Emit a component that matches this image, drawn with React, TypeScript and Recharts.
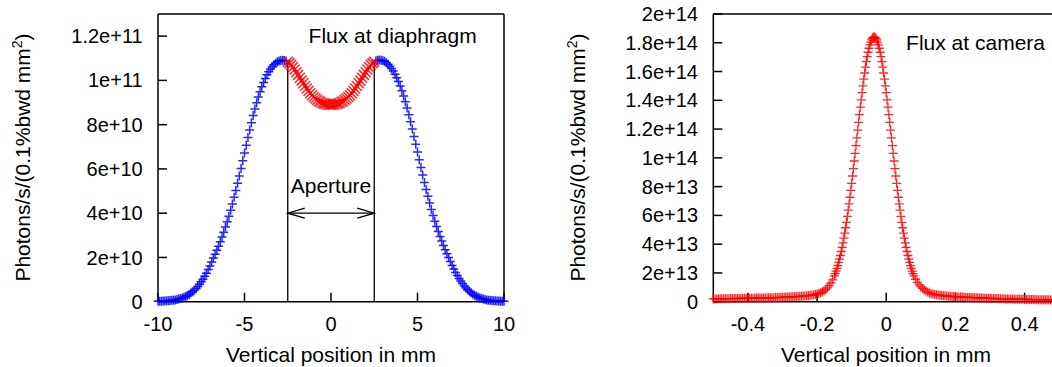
import { ScatterChart, Scatter, XAxis, YAxis, ReferenceLine } from 'recharts';

const FONT = '"Liberation Sans", Arial, Helvetica, sans-serif';

// ---- flux at diaphragm, values in units of 1e10, grid step 0.1 mm
const DIA_UNIT = 1e10;
const DIA_OUTER_LEFT = [
  0.02, 0.02, 0.02, 0.03, 0.03, 0.04, 0.04, 0.05, 0.06, 0.07,
  0.08, 0.10, 0.12, 0.14, 0.17, 0.20, 0.24, 0.28, 0.33, 0.39,
  0.45, 0.52, 0.60, 0.69, 0.79, 0.90, 1.02, 1.15, 1.29, 1.45,
  1.61, 1.79, 1.97, 2.14, 2.32, 2.51, 2.71, 2.92, 3.14, 3.37,
  3.61, 3.86, 4.13, 4.42, 4.72, 5.03, 5.35, 5.68, 6.02, 6.37,
  6.72, 7.07, 7.42, 7.76, 8.09, 8.41, 8.71, 8.99, 9.25, 9.49,
  9.71, 9.91, 10.09, 10.25, 10.39, 10.51, 10.62, 10.71, 10.78, 10.84,
  10.88, 10.90, 10.91, 10.90, 10.88,
]; // x = -10.0 .. -2.6
const DIA_APERTURE = [
  10.84, 10.78, 10.70, 10.60, 10.49, 10.37, 10.25, 10.12, 9.99, 9.87,
  9.75, 9.63, 9.52, 9.42, 9.33, 9.25, 9.18, 9.12, 9.06, 9.02,
  8.98, 8.95, 8.93, 8.91, 8.90, 8.90, 8.90, 8.91, 8.93, 8.95,
  8.98, 9.02, 9.06, 9.12, 9.18, 9.25, 9.33, 9.42, 9.52, 9.63,
  9.75, 9.87, 9.99, 10.12, 10.25, 10.37, 10.49, 10.60, 10.70, 10.78,
  10.84,
]; // x = -2.5 .. 2.5
const DIA_OUTER_RIGHT = [
  10.89, 10.91, 10.92, 10.91, 10.89, 10.86, 10.80, 10.73, 10.64, 10.54,
  10.42, 10.28, 10.12, 9.95, 9.75, 9.53, 9.29, 9.03, 8.75, 8.45,
  8.13, 7.80, 7.46, 7.11, 6.76, 6.41, 6.06, 5.72, 5.39, 5.07,
  4.76, 4.46, 4.17, 3.90, 3.64, 3.40, 3.17, 2.95, 2.74, 2.54,
  2.35, 2.17, 2.00, 1.82, 1.64, 1.48, 1.32, 1.18, 1.05, 0.93,
  0.82, 0.71, 0.62, 0.54, 0.47, 0.40, 0.34, 0.29, 0.25, 0.21,
  0.17, 0.14, 0.12, 0.10, 0.08, 0.07, 0.06, 0.05, 0.04, 0.04,
  0.03, 0.03, 0.02, 0.02, 0.02,
]; // x = 2.6 .. 10.0

// ---- flux at camera, values in units of 1e13
const CAM_UNIT = 1e13;
const CAM_TAIL_LEFT = [
  0.19, 0.192, 0.195, 0.197, 0.2, 0.202, 0.205, 0.207, 0.21, 0.212,
  0.215, 0.217, 0.22, 0.222, 0.225, 0.227, 0.23, 0.232, 0.235, 0.237,
  0.24, 0.242, 0.245, 0.247, 0.25, 0.252, 0.255, 0.257, 0.26, 0.262,
  0.265, 0.267, 0.27, 0.273, 0.277, 0.281, 0.285, 0.289, 0.294, 0.3,
  0.306, 0.312, 0.319, 0.325, 0.332, 0.338, 0.345, 0.352, 0.359, 0.366,
  0.374, 0.381, 0.389, 0.398, 0.408, 0.422, 0.44, 0.455, 0.475, 0.5,
]; // x = -0.500 .. -0.205, step 0.005
const CAM_SHOULDER_LEFT = [0.53, 0.567, 0.615, 0.675, 0.751, 0.847, 0.967, 1.116, 1.3, 1.524]; // -0.200 .. -0.155
const CAM_CORE = [
  1.80, 1.95, 2.12, 2.31, 2.51, 2.73, 2.96, 3.21, 3.49, 3.78,
  4.09, 4.42, 4.77, 5.14, 5.52, 5.93, 6.36, 6.80, 7.26, 7.74,
  8.23, 8.74, 9.25, 9.78, 10.31, 10.85, 11.39, 11.93, 12.47, 13.0,
  13.52, 14.03, 14.53, 15.01, 15.47, 15.9, 16.31, 16.69, 17.03, 17.34,
  17.62, 17.85, 18.05, 18.2, 18.31, 18.38, 18.4, 18.38, 18.31, 18.2,
  18.05, 17.85, 17.62, 17.34, 17.03, 16.69, 16.31, 15.9, 15.47, 15.01,
  14.53, 14.03, 13.52, 13.0, 12.47, 11.93, 11.39, 10.85, 10.31, 9.78,
  9.25, 8.74, 8.23, 7.74, 7.26, 6.8, 6.36, 5.93, 5.52, 5.14,
  4.77, 4.42, 4.09, 3.78, 3.49, 3.21, 2.96, 2.73, 2.51, 2.31,
  2.12, 1.95, 1.80,
]; // -0.150 .. 0.080, step 0.0025
const CAM_SHOULDER_RIGHT = [1.56, 1.35, 1.17, 1.03, 0.92, 0.82, 0.74, 0.67, 0.61, 0.56]; // 0.085 .. 0.130
const CAM_TAIL_RIGHT = [
  0.53, 0.5, 0.48, 0.46, 0.445, 0.43, 0.417, 0.405, 0.395, 0.385,
  0.375, 0.365, 0.355, 0.345, 0.338, 0.332, 0.325, 0.319, 0.312, 0.306,
  0.3, 0.294, 0.288, 0.283, 0.277, 0.272, 0.266, 0.261, 0.256, 0.251,
  0.246, 0.242, 0.237, 0.232, 0.228, 0.224, 0.22, 0.216, 0.212, 0.208,
  0.204, 0.2, 0.196, 0.193, 0.189, 0.186, 0.182, 0.179, 0.176, 0.173,
  0.17, 0.167, 0.164, 0.161, 0.158, 0.156, 0.153, 0.151, 0.148, 0.146,
  0.143, 0.141, 0.138, 0.136, 0.134, 0.132, 0.13, 0.128, 0.126, 0.124,
  0.122, 0.12, 0.118, 0.116,
]; // 0.135 .. 0.500, step 0.005

const DIA_X_TICKS = [-10, -5, 0, 5, 10];
const DIA_Y_TICKS = [0, 2e10, 4e10, 6e10, 8e10, 1e11, 1.2e11];
const CAM_X_TICKS = [-0.4, -0.2, 0, 0.2, 0.4];
const CAM_Y_TICKS = [0, 2e13, 4e13, 6e13, 8e13, 1e14, 1.2e14, 1.4e14, 1.6e14, 1.8e14, 2e14];

const APERTURE = 2.5;
const APERTURE_TOP = 1.09e11;
const ARROW_Y = 4e10;

type Seg = { start: number; step: number; values: number[] };
const toPoints = (segs: Seg[], unit: number) =>
  segs.flatMap(s => s.values.map((v, i) => ({ x: +(s.start + i * s.step).toFixed(4), y: v * unit })));

const diaOuter = [
  ...toPoints([{ start: -10, step: 0.1, values: DIA_OUTER_LEFT }], DIA_UNIT),
  ...toPoints([{ start: 2.6, step: 0.1, values: DIA_OUTER_RIGHT }], DIA_UNIT),
];
const diaInner = toPoints([{ start: -2.5, step: 0.1, values: DIA_APERTURE }], DIA_UNIT);
const camData = toPoints([
  { start: -0.5, step: 0.005, values: CAM_TAIL_LEFT },
  { start: -0.2, step: 0.005, values: CAM_SHOULDER_LEFT },
  { start: -0.15, step: 0.0025, values: CAM_CORE },
  { start: 0.085, step: 0.005, values: CAM_SHOULDER_RIGHT },
  { start: 0.135, step: 0.005, values: CAM_TAIL_RIGHT },
], CAM_UNIT);

const expFmt = (v: number) => (v === 0 ? '0' : v.toExponential());

const plus = (color: string, w: number) => (p: any) => (
  <path d={`M${p.cx - 4.5},${p.cy}h9M${p.cx},${p.cy - 4.5}v9`} stroke={color} strokeOpacity={0.85} strokeWidth={w} fill="none" />
);
const cross = (color: string) => (p: any) => (
  <path d={`M${p.cx - 5},${p.cy - 5}l10,10M${p.cx - 5},${p.cy + 5}l10,-10`} stroke={color} strokeOpacity={0.85} strokeWidth={1.5} fill="none" />
);

const ArrowShape = (p: any) => {
  const { x1, y1, x2 } = p;
  return (
    <g stroke="#000" strokeWidth={1.3} fill="none">
      <line x1={x1} y1={y1} x2={x2} y2={y1} />
      <path d={`M${x1 + 17},${y1 - 5}L${x1},${y1}L${x1 + 17},${y1 + 5}`} />
      <path d={`M${x2 - 17},${y1 - 5}L${x2},${y1}L${x2 - 17},${y1 + 5}`} />
    </g>
  );
};

const axisLine = { stroke: '#000', strokeWidth: 1.5 };
const tickFont = { fontSize: 20, fill: '#000', fontFamily: FONT };

function Frame({ xDomain, yDomain, xTicks, yTicks, yWidth }: any) {
  // gnuplot-style box with inward ticks on all four sides
  return [
    <XAxis key="b" xAxisId="b" dataKey="x" type="number" domain={xDomain} ticks={xTicks} interval={0}
      height={65.3} tickSize={-9} tickMargin={24} axisLine={axisLine} tickLine={axisLine} tick={tickFont} />,
    <XAxis key="t" xAxisId="t" orientation="top" dataKey="x" type="number" domain={xDomain} ticks={xTicks} interval={0}
      height={1} tickSize={-9} axisLine={axisLine} tickLine={axisLine} tick={false} />,
    <YAxis key="l" yAxisId="l" dataKey="y" type="number" domain={yDomain} ticks={yTicks} interval={0}
      width={yWidth} tickSize={-9} tickMargin={24.3} axisLine={axisLine} tickLine={axisLine} tick={tickFont}
      tickFormatter={expFmt} />,
    <YAxis key="r" yAxisId="r" orientation="right" dataKey="y" type="number" domain={yDomain} ticks={yTicks} interval={0}
      width={1} tickSize={-9} axisLine={axisLine} tickLine={axisLine} tick={false} />,
  ];
}

export default function App() {
  return (
    <div style={{ position: 'absolute', left: 0, top: 0, width: 1052, height: 367, overflow: 'hidden', background: '#fff', fontFamily: FONT }}>
      <div style={{ position: 'absolute', left: 0, top: 0 }}>
        <ScatterChart width={520} height={367} margin={{ top: 13, right: 15, bottom: 0, left: 0 }}>
          {Frame({ xDomain: [-10, 10], yDomain: [0, 1.3e11], xTicks: DIA_X_TICKS, yTicks: DIA_Y_TICKS, yWidth: 158 })}
          <Scatter xAxisId="b" yAxisId="l" data={diaOuter} shape={plus('#0000ff', 1.5)} isAnimationActive={false} />
          <Scatter xAxisId="b" yAxisId="l" data={diaInner} shape={cross('#ff0000')} isAnimationActive={false} />
          <ReferenceLine xAxisId="b" yAxisId="l" segment={[{ x: -APERTURE, y: 0 }, { x: -APERTURE, y: APERTURE_TOP }]} stroke="#000" strokeWidth={1.3} />
          <ReferenceLine xAxisId="b" yAxisId="l" segment={[{ x: APERTURE, y: 0 }, { x: APERTURE, y: APERTURE_TOP }]} stroke="#000" strokeWidth={1.3} />
          <ReferenceLine xAxisId="b" yAxisId="l" segment={[{ x: -APERTURE, y: ARROW_Y }, { x: APERTURE, y: ARROW_Y }]}
            shape={ArrowShape} label={{ value: 'Aperture', position: 'top', offset: 20, fontSize: 21, fill: '#000', fontFamily: FONT }} />
        </ScatterChart>
      </div>
      <div style={{ position: 'absolute', left: 530, top: 0 }}>
        <ScatterChart width={540} height={367} margin={{ top: 13, right: 9.8, bottom: 0, left: 0 }}>
          {Frame({ xDomain: [-0.5, 0.5], yDomain: [0, 2e14], xTicks: CAM_X_TICKS, yTicks: CAM_Y_TICKS, yWidth: 183.3 })}
          <Scatter xAxisId="b" yAxisId="l" data={camData} shape={plus('#ff0000', 1.3)} isAnimationActive={false} />
        </ScatterChart>
      </div>
      <svg width={1052} height={367} style={{ position: 'absolute', left: 0, top: 0, pointerEvents: 'none' }}
        fontFamily={FONT} fontSize={21} fill="#000">
        <text transform="translate(30,157.5) rotate(-90)" textAnchor="middle">
          Photons/s/(0.1%bwd mm<tspan dy={-8} fontSize={14}>2</tspan><tspan dy={8}>)</tspan>
        </text>
        <text transform="translate(585,157.5) rotate(-90)" textAnchor="middle">
          Photons/s/(0.1%bwd mm<tspan dy={-8} fontSize={14}>2</tspan><tspan dy={8}>)</tspan>
        </text>
        <text x={331} y={361.7} textAnchor="middle">Vertical position in mm</text>
        <text x={886} y={361.7} textAnchor="middle">Vertical position in mm</text>
        <text x={476.7} y={42.7} textAnchor="end">Flux at diaphragm</text>
        <text x={1045} y={50} textAnchor="end">Flux at camera</text>
      </svg>
    </div>
  );
}
